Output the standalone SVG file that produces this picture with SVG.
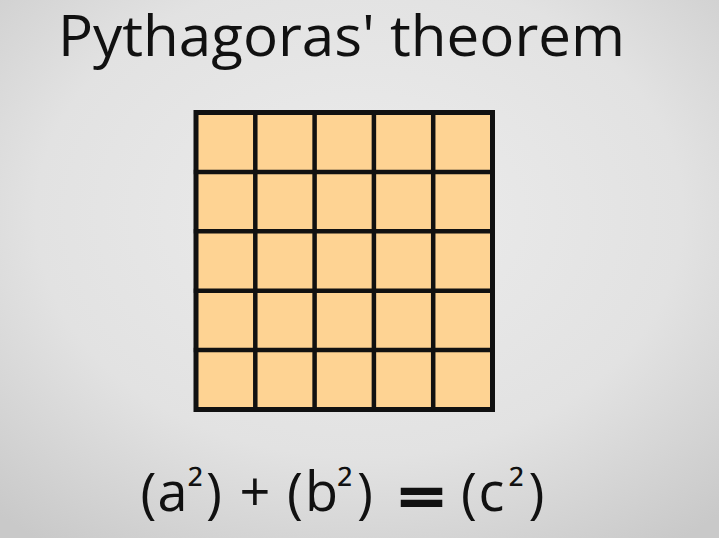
<svg xmlns="http://www.w3.org/2000/svg" width="719" height="538" viewBox="0 0 719 538">
<defs>
<radialGradient id="bg" cx="0.5" cy="0.4" r="0.75">
<stop offset="0" stop-color="#ececec"/>
<stop offset="0.6" stop-color="#e2e2e2"/>
<stop offset="1" stop-color="#c9c9c9"/>
</radialGradient>
</defs>
<style>
.t{font-family:"Open Sans","Noto Sans","Liberation Sans",sans-serif;fill:#111;}
.eq{font-family:"Open Sans","Noto Sans","Liberation Sans",sans-serif;fill:#111;font-size:54px;text-anchor:middle;}
.sq{font-size:44px;}
.cell{fill:#fed393;}
.line{stroke:#111;stroke-width:4.5;stroke-linecap:square;fill:none;}
</style>
<rect width="719" height="538" fill="url(#bg)"/>
<g id="title">
<text class="t" x="58" y="56" font-size="57" textLength="567" lengthAdjust="spacingAndGlyphs">Pythagoras' theorem</text>
</g>
<g id="grid">
<rect class="cell" x="196" y="112.5" width="296.5" height="297"/>
<g class="line">
<line x1="255.3" y1="112.5" x2="255.3" y2="409.5"/>
<line x1="314.6" y1="112.5" x2="314.6" y2="409.5"/>
<line x1="373.9" y1="112.5" x2="373.9" y2="409.5"/>
<line x1="433.2" y1="112.5" x2="433.2" y2="409.5"/>
<line x1="196" y1="171.9" x2="492.5" y2="171.9"/>
<line x1="196" y1="231.3" x2="492.5" y2="231.3"/>
<line x1="196" y1="290.7" x2="492.5" y2="290.7"/>
<line x1="196" y1="350.1" x2="492.5" y2="350.1"/>
<rect x="196" y="112.5" width="296.5" height="297" stroke-width="5"/>
</g>
</g>
<g id="equation">
<text class="eq" x="148.5" y="512">(</text>
<text class="eq" x="172.5" y="511">a</text>
<text class="eq sq" x="195.5" y="504">²</text>
<text class="eq" x="214" y="512">)</text>
<text class="eq" x="255" y="511" font-size="46">+</text>
<text class="eq" x="295" y="512">(</text>
<text class="eq" x="321.5" y="511">b</text>
<text class="eq sq" x="345" y="504">²</text>
<text class="eq" x="365" y="512">)</text>
<text class="eq" x="421.5" y="517" font-size="92" font-weight="800" transform="translate(421.5 0) scale(1.55 1) translate(-421.5 0)">=</text>
<text class="eq" x="469" y="512">(</text>
<text class="eq" x="491.5" y="511">c</text>
<text class="eq sq" x="516.5" y="504">²</text>
<text class="eq" x="536.5" y="512">)</text>
</g>
</svg>
